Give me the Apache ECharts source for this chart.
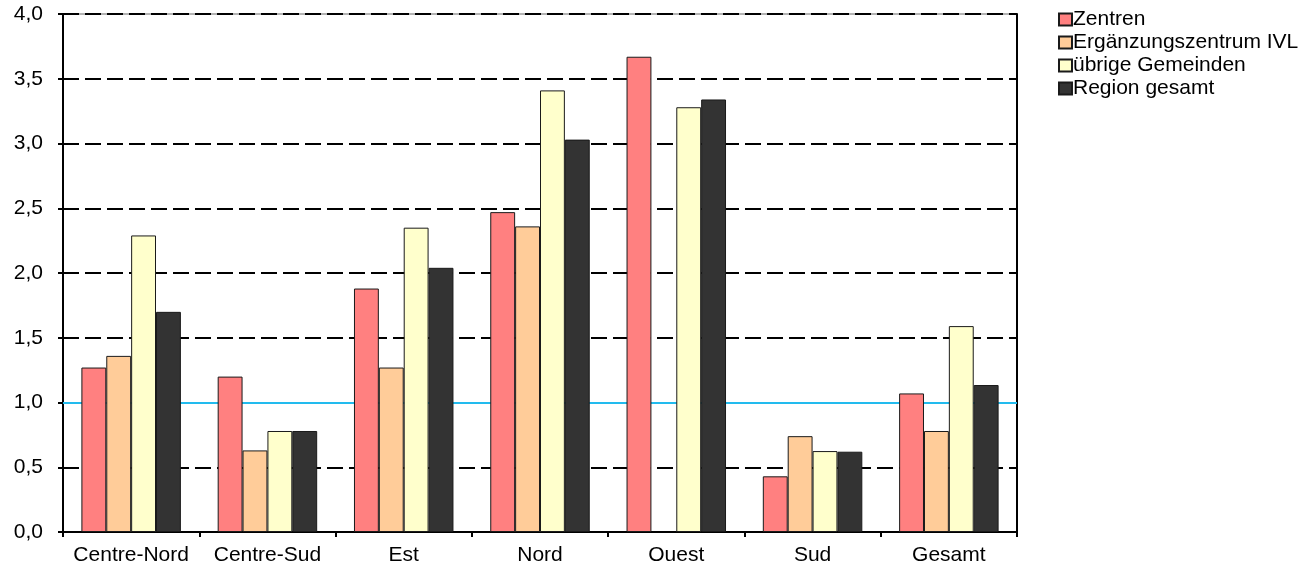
<!DOCTYPE html>
<html>
<head>
<meta charset="utf-8">
<script src="https://cdn.jsdelivr.net/npm/echarts@6/dist/echarts.min.js"></script>
<style>html,body{margin:0;padding:0;background:#fff}#c{width:1314px;height:571px}</style>
</head>
<body>
<div id="c"></div>
<script>
const categories = ['Centre-Nord', 'Centre-Sud', 'Est', 'Nord', 'Ouest', 'Sud', 'Gesamt'];
const seriesNames = ['Zentren', 'Ergänzungszentrum IVL', 'übrige Gemeinden', 'Region gesamt'];
const zentren = [1.27, 1.20, 1.88, 2.47, 3.67, 0.43, 1.07];
const ergaenzung = [1.36, 0.63, 1.27, 2.36, null, 0.74, 0.78];
const uebrige = [2.29, 0.78, 2.35, 3.41, 3.28, 0.625, 1.59];
const region = [1.70, 0.78, 2.04, 3.03, 3.34, 0.62, 1.135];
const yTicks = [0, 0.5, 1, 1.5, 2, 2.5, 3, 3.5, 4];
const referenceValue = 1.0;

const colors = ['#FF8080', '#FFCC99', '#FFFFCC', '#333333'];
const values = [zentren, ergaenzung, uebrige, region];
const font = 'Liberation Sans, Arial, sans-serif';

const chart = echarts.init(document.getElementById('c'));
const series = values.map((v, i) => ({
  name: seriesNames[i],
  type: 'bar',
  data: v.map(x => x === null ? '-' : x),
  barGap: '0%',
  barCategoryGap: '27%',
  z: 2,
  itemStyle: { color: colors[i], borderColor: '#1a1a1a', borderWidth: 1 }
}));
series[0].markLine = {
  z: 1,
  silent: true,
  symbol: 'none',
  label: { show: false },
  lineStyle: { color: '#22BBEE', width: 2, type: 'solid' },
  data: [{ yAxis: referenceValue }]
};

chart.setOption({
  animation: false,
  backgroundColor: '#fff',
  grid: { left: 63, right: 297, top: 14, bottom: 39, show: true, borderColor: '#666', borderWidth: 1, backgroundColor: 'transparent' },
  legend: {
    orient: 'vertical',
    left: 1053,
    top: 4,
    itemWidth: 13,
    itemHeight: 12,
    itemGap: 2,
    icon: 'rect',
    data: seriesNames,
    textStyle: { fontFamily: font, fontSize: 21, color: '#000', padding: [0, 0, 0, -4] }
  },
  xAxis: {
    type: 'category',
    data: categories,
    axisLine: { lineStyle: { color: '#000', width: 2 } },
    axisTick: { show: true, interval: 0, length: 5, lineStyle: { color: '#000', width: 2 } },
    axisLabel: { interval: 0, fontFamily: font, fontSize: 21, color: '#000', margin: 13 }
  },
  yAxis: [{
    type: 'value',
    min: yTicks[0],
    max: yTicks[yTicks.length - 1],
    interval: yTicks[1] - yTicks[0],
    axisLine: { show: true, lineStyle: { color: '#000', width: 2 } },
    axisTick: { show: true, length: 5, lineStyle: { color: '#000', width: 2 } },
    axisLabel: { fontFamily: font, fontSize: 21, color: '#000', margin: 20, formatter: v => v.toFixed(1).replace('.', ',') },
    splitLine: { show: true, lineStyle: { color: '#000', width: 2, type: [16, 6] } }
  }, {
    type: 'value',
    position: 'right',
    min: yTicks[0],
    max: yTicks[yTicks.length - 1],
    interval: yTicks[1] - yTicks[0],
    axisLine: { show: true, lineStyle: { color: '#000', width: 2 } },
    axisTick: { show: false },
    axisLabel: { show: false },
    splitLine: { show: false }
  }],
  series: series
});
</script>
</body>
</html>
